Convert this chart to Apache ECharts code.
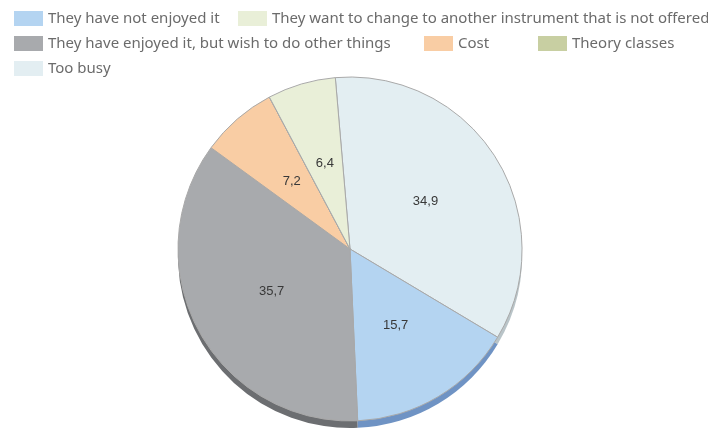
<!DOCTYPE html>
<html><head><meta charset="utf-8">
<script src="https://cdn.jsdelivr.net/npm/echarts@6/dist/echarts.min.js"></script>
<style>html,body{margin:0;padding:0;background:#fff}#c{width:708px;height:432px}</style>
</head><body><div id="c"></div>
<script>
const categories = ["Too busy","They have not enjoyed it","They have enjoyed it, but wish to do other things","Cost","Theory classes","They want to change to another instrument that is not offered"];
const values = [34.9, 15.7, 35.7, 7.2, 0, 6.4];
const colors = ["#e3eef2","#b4d4f1","#a8aaad","#f9cda4","#c8cfa2","#e9efd8"];
const edgeColors = ["#b9c4c8","#6f93c4","#6c6e71","#c9a27f","#9aa27a","#c0c7ad"];
const legendRows = [
  {name:"They have not enjoyed it", left:14, top:11},
  {name:"They want to change to another instrument that is not offered", left:238, top:11},
  {name:"They have enjoyed it, but wish to do other things", left:14, top:36},
  {name:"Cost", left:424, top:36},
  {name:"Theory classes", left:538, top:36},
  {name:"Too busy", left:14, top:61}
];
const chart = echarts.init(document.getElementById('c'));
const legendStyle = {fontFamily:'Noto Sans', fontSize:15, color:'#6b6b6b'};
chart.setOption({
  animation:false,
  color: colors,
  legend: legendRows.map(r => ({
    data:[r.name], left:r.left, top:r.top, padding:0, itemWidth:29, itemHeight:15,
    icon:'rect', itemGap:0, textStyle:legendStyle, selectedMode:false,
    itemStyle:{borderWidth:0}
  })),
  series:[
    {
      type:'pie', silent:true, center:[350,256], radius:172, startAngle:94.9, clockwise:true,
      z:1, label:{show:false}, labelLine:{show:false}, legendHoverLink:false,
      data: categories.map((c,i)=>({name:c+' ', value:values[i], itemStyle:{color:edgeColors[i]}})),
      itemStyle:{borderWidth:0}
    },
    {
      type:'pie', center:[350,249], radius:172, startAngle:94.9, clockwise:true, z:2,
      data: categories.map((c,i)=>({name:c, value:values[i]})),
      itemStyle:{borderColor:'#a9a9a9', borderWidth:1},
      label:{show:true, position:'inside', fontFamily:'Liberation Sans', fontSize:13, color:'#383838',
        formatter: p => p.value === 0 ? '' : String(p.value).replace('.', ',')},
      labelLine:{show:false},
      emphasis:{disabled:true}
    }
  ]
});
</script></body></html>
